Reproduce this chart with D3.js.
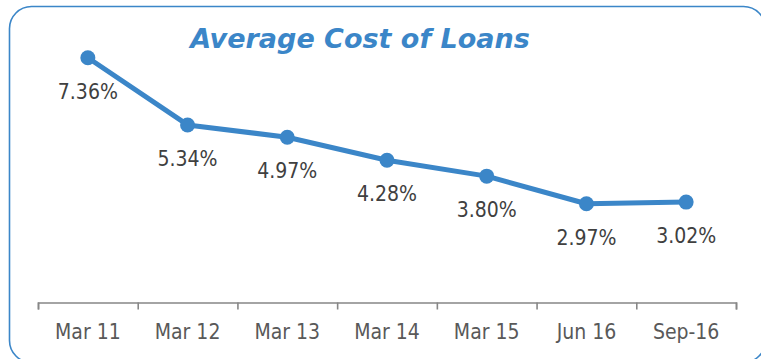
<!DOCTYPE html>
<html>
<head>
<meta charset="utf-8">
<script src="https://cdn.jsdelivr.net/npm/d3@7"></script>
<style>
  html, body { margin: 0; padding: 0; background: #ffffff; }
  svg { display: block; }
</style>
</head>
<body>
<svg id="chart" width="761" height="359"></svg>
<script>
// Average cost of loans by reporting period (percent)
const periods = ["Mar 11", "Mar 12", "Mar 13", "Mar 14", "Mar 15", "Jun 16", "Sep-16"];
const avgCost = [7.36, 5.34, 4.97, 4.28, 3.80, 2.97, 3.02];
const chartTitle = "Average Cost of Loans";

const data = periods.map((p, i) => ({ period: p, value: avgCost[i] }));

const BLUE = "#3b86c8";
const FONT = "'DejaVu Sans Condensed', 'DejaVu Sans', sans-serif";

const svg = d3.select("#chart");

// Rounded frame around the whole chart
svg.append("rect")
  .attr("x", 9.5).attr("y", 6.5)
  .attr("width", 756).attr("height", 356)
  .attr("rx", 22).attr("ry", 22)
  .attr("fill", "none")
  .attr("stroke", BLUE)
  .attr("stroke-width", 1.6);

// Title
svg.append("text")
  .attr("x", 360).attr("y", 48)
  .attr("text-anchor", "middle")
  .attr("font-family", "'DejaVu Sans', sans-serif")
  .attr("font-weight", "bold")
  .attr("font-style", "italic")
  .attr("font-size", 27)
  .attr("fill", BLUE)
  .text(chartTitle);

// Scales
const x = d3.scaleBand().domain(periods).range([38, 736]);
const y = d3.scaleLinear().domain([0, 8]).range([302.5, 36.5]);

// Category boundary ticks
const edges = d3.scalePoint().domain(d3.range(periods.length + 1)).range(x.range());
const tickAxis = svg.append("g")
  .attr("transform", `translate(0,${y(0)})`)
  .call(d3.axisBottom(edges).tickSizeInner(7).tickSizeOuter(7).tickFormat(""));
tickAxis.selectAll("path, line").attr("stroke", "#878787").attr("stroke-width", 1.6);

// Category labels
const labelAxis = svg.append("g")
  .attr("transform", `translate(0,${y(0)})`)
  .call(d3.axisBottom(x).tickSize(0).tickPadding(22));
labelAxis.select(".domain").remove();
labelAxis.selectAll("text")
  .attr("font-family", FONT)
  .attr("font-size", 21)
  .attr("fill", "#595959");

// Series line
const line = d3.line()
  .x(d => x(d.period) + x.bandwidth() / 2)
  .y(d => y(d.value));

svg.append("path")
  .datum(data)
  .attr("d", line)
  .attr("fill", "none")
  .attr("stroke", BLUE)
  .attr("stroke-width", 5)
  .attr("stroke-linejoin", "round");

svg.selectAll("circle.pt")
  .data(data)
  .join("circle")
  .attr("class", "pt")
  .attr("cx", d => x(d.period) + x.bandwidth() / 2)
  .attr("cy", d => y(d.value))
  .attr("r", 7.5)
  .attr("fill", BLUE);

// Value labels beneath each point
svg.selectAll("text.val")
  .data(data)
  .join("text")
  .attr("class", "val")
  .attr("x", d => x(d.period) + x.bandwidth() / 2)
  .attr("y", d => y(d.value) + 41)
  .attr("text-anchor", "middle")
  .attr("font-family", FONT)
  .attr("font-size", 21)
  .attr("fill", "#404040")
  .text(d => d.value.toFixed(2) + "%");
</script>
</body>
</html>
